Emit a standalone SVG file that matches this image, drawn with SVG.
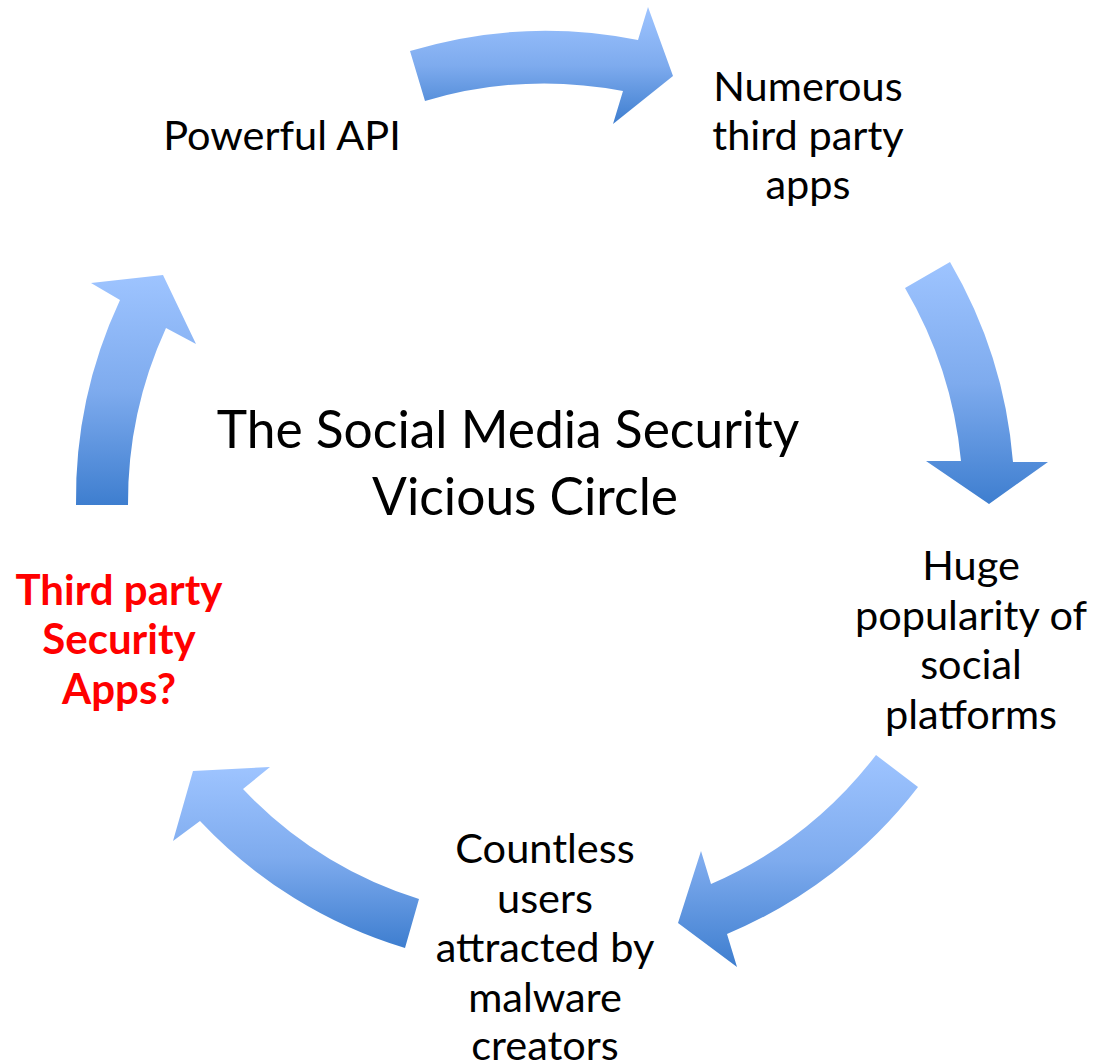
<svg xmlns="http://www.w3.org/2000/svg" width="1097" height="1064" viewBox="0 0 1097 1064">
  <defs>
    <linearGradient id="arrowGrad" x1="0" y1="0" x2="0" y2="1">
      <stop offset="0" stop-color="#9EC4FF"/>
      <stop offset="0.5" stop-color="#7EABEE"/>
      <stop offset="1" stop-color="#3E7ECF"/>
    </linearGradient>
  </defs>
  <style>
    .arrow { fill: url(#arrowGrad); stroke: none; }
    .node { font-family: Lato, "Liberation Sans", sans-serif; font-size: 41.5px; fill: #000000; text-anchor: middle; }
    .alert { font-family: Lato, "Liberation Sans", sans-serif; font-size: 42px; font-weight: bold; fill: #FF0000; text-anchor: middle; }
    .title { font-family: Lato, "Liberation Sans", sans-serif; font-size: 51.5px; fill: #000000; text-anchor: middle; }
  </style>
  <rect width="1097" height="1064" fill="#FFFFFF"/>

  <g id="connectors">
    <path id="arrow-api-apps" class="arrow" d="M 410,51 A 472 472 0 0 1 638,40 L 648,7 L 673,76 L 613,124 L 623,91 A 420 420 0 0 0 425,101 Z"/>
    <path id="arrow-apps-popularity" class="arrow" d="M 950,262 A 472 472 0 0 1 1013,462 L 1048,462 L 989,504 L 926,461 L 961,461 A 420 420 0 0 0 905,288 Z"/>
    <path id="arrow-popularity-users" class="arrow" d="M 918,787 A 470 470 0 0 1 727,934 L 737,967 L 678,923 L 701,851 L 711,884 A 418 418 0 0 0 876,755 Z"/>
    <path id="arrow-users-security" class="arrow" d="M 405,948 A 466 466 0 0 1 200,821 L 173,841 L 193,771 L 270,767 L 243,789 A 414 414 0 0 0 419,899 Z"/>
    <path id="arrow-security-api" class="arrow" d="M 76,505 A 470 470 0 0 1 120,300 L 91,283 L 163,275 L 196,344 L 166,328 A 418 418 0 0 0 128,505 Z"/>
  </g>

  <g id="title">
    <text class="title" x="508" y="448">The Social Media Security</text>
    <text class="title" x="525" y="515">Vicious Circle</text>
  </g>

  <g id="node-powerful-api">
    <text class="node" x="282" y="150">Powerful API</text>
  </g>

  <g id="node-third-party-apps">
    <text class="node" x="808" y="101">Numerous</text>
    <text class="node" x="808" y="150">third party</text>
    <text class="node" x="808" y="199">apps</text>
  </g>

  <g id="node-popularity">
    <text class="node" x="971" y="580">Huge</text>
    <text class="node" x="971" y="629.5">popularity of</text>
    <text class="node" x="971" y="679">social</text>
    <text class="node" x="971" y="728.5">platforms</text>
  </g>

  <g id="node-users">
    <text class="node" x="545" y="863">Countless</text>
    <text class="node" x="545" y="912.5">users</text>
    <text class="node" x="545" y="962">attracted by</text>
    <text class="node" x="545" y="1011.5">malware</text>
    <text class="node" x="545" y="1060">creators</text>
  </g>

  <g id="node-security-apps">
    <text class="alert" x="119" y="604.5">Third party</text>
    <text class="alert" x="119" y="654">Security</text>
    <text class="alert" x="119" y="703.5">Apps?</text>
  </g>
</svg>
